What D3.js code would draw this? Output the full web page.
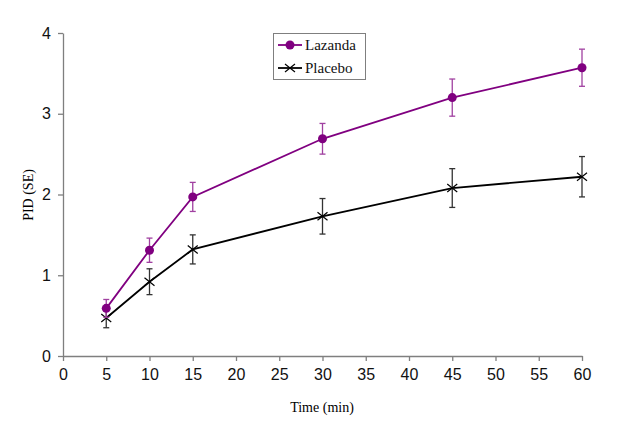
<!DOCTYPE html>
<html><head><meta charset="utf-8">
<script src="https://cdn.jsdelivr.net/npm/d3@7"></script>
<style>body{margin:0;background:#fff}svg{display:block}</style>
</head><body><svg id="c" width="620" height="439"></svg>
<script>
const times = [5, 10, 15, 30, 45, 60];
const lazanda = [0.59, 1.31, 1.97, 2.69, 3.20, 3.57];
const lazandaSE = [0.11, 0.15, 0.18, 0.19, 0.23, 0.23];
const placebo = [0.47, 0.92, 1.32, 1.73, 2.08, 2.22];
const placeboSE = [0.12, 0.16, 0.18, 0.22, 0.24, 0.25];
const xTicks = d3.range(0, 61, 5);
const yTicks = [0, 1, 2, 3, 4];

const svg = d3.select("#c");
const x = d3.scaleLinear().domain([0, 60]).range([63, 582]);
const y = d3.scaleLinear().domain([0, 4]).range([356, 33]);
const axisCol = "#7f7f7f";

const xa = svg.append("g").attr("transform", "translate(0,356)")
  .call(d3.axisBottom(x).tickValues(xTicks).tickFormat(d3.format("d")).tickSize(5).tickSizeOuter(0).tickPadding(8));
const ya = svg.append("g").attr("transform", "translate(63,0)")
  .call(d3.axisLeft(y).tickValues(yTicks).tickFormat(d3.format("d")).tickSize(5).tickSizeOuter(0).tickPadding(7));
[xa, ya].forEach(a => {
  a.selectAll("path,line").attr("stroke", axisCol).attr("stroke-width", 1.3);
  a.selectAll("text").attr("fill", "#111").style("font-family", "'Liberation Sans', Arial, sans-serif").style("font-size", "16px");
});

svg.append("text").attr("x", 322).attr("y", 412).attr("text-anchor", "middle")
  .style("font-family", "'Liberation Serif', 'Times New Roman', serif").style("font-size", "14px").text("Time (min)");
svg.append("text").attr("transform", "translate(33,195) rotate(-90)").attr("text-anchor", "middle")
  .style("font-family", "'Liberation Serif', 'Times New Roman', serif").style("font-size", "14px").text("PID (SE)");

function series(vals, se, color, barColor, marker) {
  const pts = times.map((t, i) => ({t, v: vals[i], e: se[i]}));
  const g = svg.append("g");
  pts.forEach(p => {
    const cx = x(p.t);
    g.append("line").attr("x1", cx).attr("x2", cx).attr("y1", y(p.v + p.e)).attr("y2", y(p.v - p.e)).attr("stroke", barColor).attr("stroke-width", 1.3);
    [p.v + p.e, p.v - p.e].forEach(vv => g.append("line").attr("x1", cx - 3).attr("x2", cx + 3).attr("y1", y(vv)).attr("y2", y(vv)).attr("stroke", barColor).attr("stroke-width", 1.3));
  });
  g.append("path").datum(pts).attr("fill", "none").attr("stroke", color).attr("stroke-width", 1.8)
    .attr("d", d3.line().x(d => x(d.t)).y(d => y(d.v)));
  pts.forEach(p => marker(g, x(p.t), y(p.v)));
}
const circ = (g, cx, cy) => g.append("circle").attr("cx", cx).attr("cy", cy).attr("r", 4.5).attr("fill", "#800080");
const cross = (g, cx, cy) => g.append("path").attr("d", `M${cx-5},${cy-4}L${cx+5},${cy+4}M${cx-5},${cy+4}L${cx+5},${cy-4}`).attr("stroke", "#000").attr("stroke-width", 1.2);

series(placebo, placeboSE, "#000", "#333", cross);
series(lazanda, lazandaSE, "#800080", "#a040a0", circ);

// legend
const lg = svg.append("g");
lg.append("rect").attr("x", 273.5).attr("y", 33.5).attr("width", 92).attr("height", 46).attr("fill", "#fff").attr("stroke", axisCol).attr("stroke-width", 1);
const items = [{name: "Lazanda", color: "#800080", m: circ}, {name: "Placebo", color: "#000", m: cross}];
items.forEach((it, i) => {
  const yy = 45 + i * 23;
  lg.append("line").attr("x1", 278).attr("x2", 302).attr("y1", yy).attr("y2", yy).attr("stroke", it.color).attr("stroke-width", 1.8);
  it.m(lg, 290, yy);
  lg.append("text").attr("x", 305).attr("y", yy + 5).style("font-family", "'Liberation Serif', 'Times New Roman', serif").style("font-size", "15px").attr("fill", "#111").text(it.name);
});
</script></body></html>
